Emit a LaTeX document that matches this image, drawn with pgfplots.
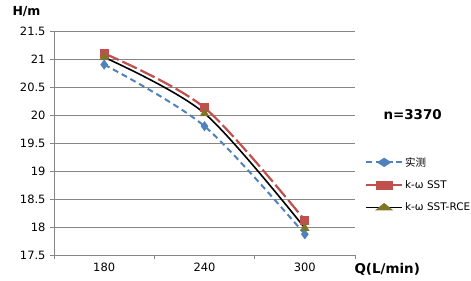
\documentclass[border=0pt]{standalone}
\usepackage{pgfplots}
\pgfplotsset{compat=1.18}
\usepackage{fontspec}
\setmainfont{DejaVu Sans}
\newfontfamily\cjk{Noto Sans CJK SC}
\definecolor{cblue}{RGB}{79,129,189}
\definecolor{cred}{RGB}{192,80,77}
\definecolor{colive}{RGB}{125,120,40}
\definecolor{cgrid}{RGB}{134,134,134}

\begin{document}
\begin{tikzpicture}
\useasboundingbox (-54bp,-26bp) rectangle (417bp,255bp);
\begin{axis}[
    at={(0,0)}, anchor=south west,
    scale only axis,
    width=301bp, height=224bp,
    xmin=-0.5, xmax=2.5,
    ymin=17.5, ymax=21.5,
    xtick={-0.5,0.5,1.5,2.5},
    xticklabels={},
    extra x ticks={0,1,2},
    extra x tick labels={180,240,300},
    extra x tick style={major tick length=0pt, grid=none},
    ytick={17.5,18,...,21.5},
    yticklabels={17.5,18,18.5,19,19.5,20,20.5,21,21.5},
    ymajorgrids=true,
    grid style={cgrid, line width=0.9pt},
    axis x line*=bottom, axis y line*=left,
    axis line style={cgrid, line width=0.9pt, -},
    tick style={cgrid, line width=0.9pt},
    tick align=outside, major tick length=4bp,
    ticklabel style={font=\fontsize{11.5}{13}\selectfont, text=black},
    x tick label style={yshift=-4bp},
    y tick label style={xshift=-1bp},
    legend style={draw=none, fill=none, at={(311bp,100bp)}, anchor=north west,
      font=\fontsize{10.5}{12}\selectfont, row sep=9bp, cells={anchor=west},
      inner sep=0pt},
    legend cell align=left,
    legend image post style={xscale=2.1},
]
\addplot[cblue, line width=2pt, dash pattern=on 6pt off 4pt, smooth,
  mark=diamond*, mark size=3.5pt, mark options={solid, fill=cblue, draw=cblue}]
  coordinates {(0,20.9) (1,19.8) (2,17.87)};
\addlegendentry{\cjk 实测}
\addplot[cred, line width=2.2pt, dash pattern=on 16pt off 4pt, smooth,
  mark=square*, mark size=3.5pt, mark options={solid, fill=cred, draw=cred}]
  coordinates {(0,21.1) (1,20.13) (2,18.12)};
\addlegendentry{k-ω SST}
\addplot[black, line width=1.6pt, smooth,
  mark=triangle*, mark size=3.8pt, mark options={fill=colive, draw=colive}]
  coordinates {(0,21.03) (1,20.03) (2,17.98)};
\addlegendentry{k-ω SST-RCE}
\end{axis}
\node[font=\fontsize{12.5}{14}\selectfont\bfseries, anchor=west] at (-45bp,243bp) {H/m};
\node[font=\fontsize{13.5}{15}\selectfont\bfseries, anchor=west] at (297bp,-14bp) {Q(L/min)};
\node[font=\fontsize{13.5}{15}\selectfont\bfseries, anchor=west] at (326bp,140bp) {n=3370};
\end{tikzpicture}
\end{document}
